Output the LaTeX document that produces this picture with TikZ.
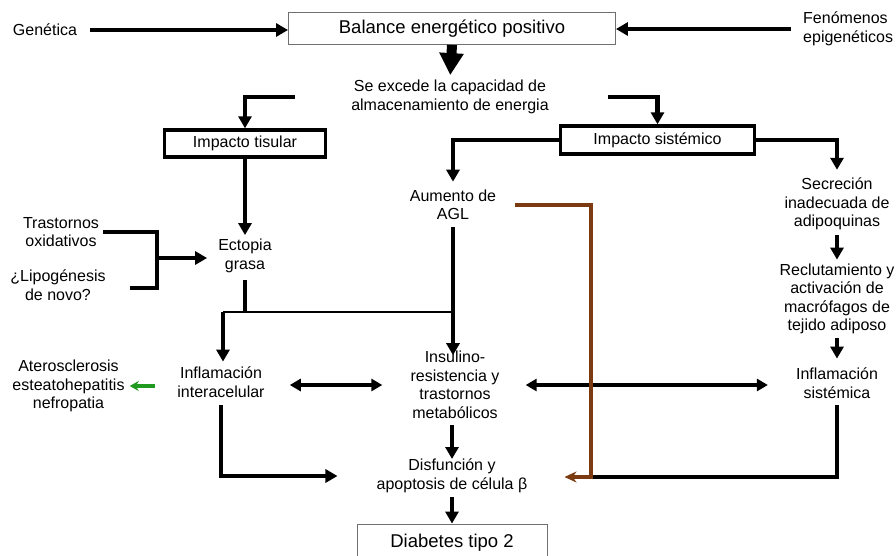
\documentclass[tikz,border=0pt]{standalone}
\usepackage{fontspec}
\setmainfont{Liberation Sans}
\usepackage{tikz}
\usetikzlibrary{arrows.meta,positioning,calc}
\definecolor{brn}{HTML}{7B3A10}
\definecolor{grn}{HTML}{1F9A1F}
\definecolor{edge}{HTML}{707070}
\tikzset{
  lbl/.style={inner sep=0pt, align=center, font=\fontsize{16}{18.5}\selectfont},
  blk/.style={draw=edge, line width=0.9pt, inner sep=0pt,
              font=\fontsize{18.5}{22}\selectfont},
  tblk/.style={draw=black, line width=3.4pt, inner sep=0pt,
               font=\fontsize{16}{19}\selectfont},
  ar/.style={-{Triangle[length=12pt,width=13pt]}, line width=4.4pt},
  ln/.style={line width=4.4pt},
  thn/.style={line width=2.4pt},
  bigar/.style={-{Triangle[length=22pt,width=23pt]}, line width=10pt},
  dar/.style={{Triangle[length=11pt,width=12pt]}-{Triangle[length=11pt,width=12pt]},
              line width=3.4pt},
  brar/.style={-{Stealth[length=12pt,width=11pt]}, line width=3.4pt, draw=brn},
  grar/.style={-{Stealth[length=9pt,width=10pt]}, line width=3.6pt, draw=grn},
}
\begin{document}
\begin{tikzpicture}[x=1pt,y=-1pt]
\path[use as bounding box, fill=white] (0,0) rectangle (896,555);

% ---- top ----
\node[blk, minimum width=327pt, minimum height=32pt] (bal) at (452,28.5)
  {Balance energético positivo};
\node[lbl] (gen) at (45,30) {Genética};
\node[lbl, align=left, anchor=west] (fen) at (803,29) {Fenómenos\\epigenéticos};
\node[lbl] (exc) at (450,97) {Se excede la capacidad de\\almacenamiento de energia};

% ---- impacto ----
\node[tblk, minimum width=161pt, minimum height=27pt] (tis) at (245,143.5) {Impacto tisular};
\node[tblk, minimum width=194pt, minimum height=28pt] (sis) at (657.5,140) {Impacto sistémico};
\coordinate (tisin) at (295,97);
\coordinate (sisin) at (608,97);

% ---- left ----
\node[lbl] (ecto) at (245,256) {Ectopia\\grasa};
\node[lbl] (trast) at (61,232) {Trastornos\\oxidativos};
\node[lbl] (lipo) at (58,285) {¿Lipogénesis\\de novo?};
\coordinate (brk) at (157,258);
\coordinate (fork) at (223,312);
\node[lbl] (infint) at (221,382) {Inflamación\\interacelular};
\node[lbl] (ater) at (68.5,386) {Aterosclerosis\\esteatohepatitis\\nefropatia};

% ---- centre ----
\node[lbl] (agl) at (453,205) {Aumento de\\AGL};
\node[lbl] (insul) at (455,385) {Insulino-\\resistencia y\\trastornos\\metabólicos};
\node[lbl] (disf) at (452,476) {Disfunción y\\apoptosis de célula β};
\node[blk, minimum width=190pt, minimum height=38pt] (diab) at (452,543) {Diabetes tipo 2};

% ---- right ----
\node[lbl] (secr) at (837,204) {Secreción\\inadecuada de\\adipoquinas};
\node[lbl] (recl) at (837,299) {Reclutamiento y\\activación de\\macrófagos de\\tejido adiposo};
\node[lbl] (infsis) at (837,383) {Inflamación\\sistémica};
\coordinate (bj) at (591,477);

% ---- edges ----
\draw[ar, shorten <=13pt] (gen.east) -- (gen.east -| bal.west);
\draw[ar, shorten <=12pt] (fen.west) -- (fen.west -| bal.east);
\draw[bigar, shorten >=5pt] (bal.south) -- (exc.north);
\draw[ar] (tisin) -| (tis.north);
\draw[ar] (sisin) -| (sis.north);
\draw[ar, shorten >=4pt] (tis.south) -- (ecto.north);
\draw[ar, shorten >=8pt] (sis.west) -| (agl.north);
\draw[ar, shorten >=8pt] (sis.east) -| (secr.north);
\draw[ar, shorten <=5pt, shorten >=4pt] (secr.south) -- (recl.north);
\draw[ar, shorten <=4pt, shorten >=9pt] (recl.south) -- (infsis.north);

% left branch
\draw[ln] ($(trast.east)+(4,0)$) -| (brk) |- ($(lipo.east)+(24,3)$);
\draw[ar, shorten >=11pt] (brk) -- (brk -| ecto.west);
\draw[ln, shorten <=7pt] (ecto.south) -- (ecto.south |- fork);
\draw[thn] (fork) -- (fork -| agl.south);
\draw[ar, shorten >=5pt] (fork) -- (fork |- infint.north);
\draw[grar, shorten <=22pt, shorten >=5pt] (ater.east -| infint.west) -- (ater.east);
\draw[ar, shorten <=8pt, shorten >=39pt] (infint.south) |- (disf.west);

% centre
\draw[ar, shorten <=7pt, shorten >=-4pt] (agl.south) -- (agl.south |- insul.north);
\draw[dar, shorten <=25pt, shorten >=28pt] (infint.east |- insul.west) -- (insul.west);
\draw[dar, shorten <=26pt, shorten >=28pt] (insul.east) -- (insul.east -| infsis.west);
\draw[ar, shorten <=6pt] (disf.north |- insul.south) -- (disf.north);
\draw[ar, shorten <=4pt] (disf.south) -- (diab.north);

% right return
\draw[ln, shorten <=7pt] (infsis.south) |- (bj);
\draw[brar, shorten <=19pt, shorten >=37pt] (agl.east) -| (bj) -- (bj -| disf.east);

\end{tikzpicture}
\end{document}
